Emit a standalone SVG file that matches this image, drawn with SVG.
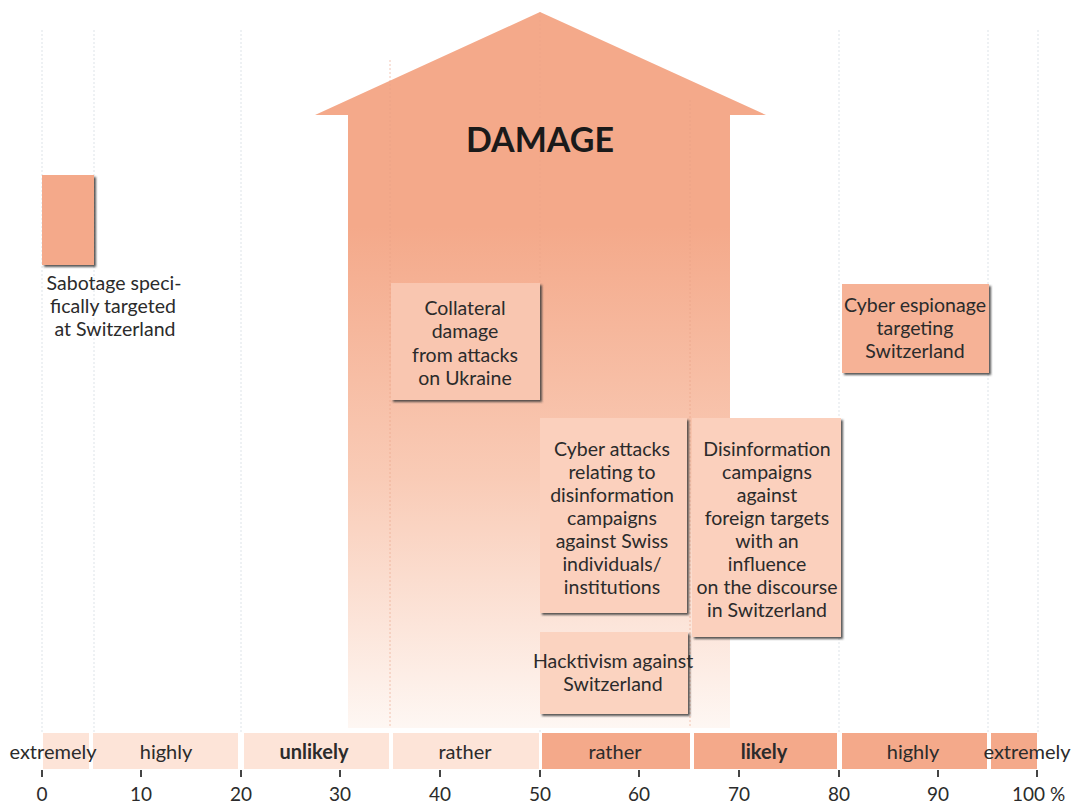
<svg xmlns="http://www.w3.org/2000/svg" width="1082" height="803" viewBox="0 0 1082 803">
<style>
text{font-family:Lato,"Noto Sans","Liberation Sans",sans-serif;fill:#2b2b2b;}
.lbl{font-size:19.5px;text-anchor:middle;}
.band{font-size:20px;text-anchor:middle;}
.num{font-size:19px;text-anchor:middle;}
.grid{stroke:#dde3e8;stroke-width:1;stroke-dasharray:2 2;}
.tick{stroke:#444;stroke-width:2;}
.lt{fill:#fde4d8;}
.dk{fill:#f4a98a;}
.box{filter:url(#sh);}
</style>
<defs>
<linearGradient id="ag" x1="0" y1="0" x2="0" y2="1" gradientUnits="objectBoundingBox">
<stop offset="0" stop-color="#f4a98a"/>
<stop offset="0.3" stop-color="#f4a98a"/>
<stop offset="0.65" stop-color="#f9cbb6"/>
<stop offset="1" stop-color="#fef7f3"/>
</linearGradient>
<filter id="sh" x="-10%" y="-10%" width="125%" height="125%">
<feDropShadow dx="2" dy="2" stdDeviation="0.8" flood-color="#3a3a3a" flood-opacity="0.85"/>
</filter>
</defs>
<rect width="1082" height="803" fill="#ffffff"/>
<g id="grid">
<line class="grid" x1="42" y1="30" x2="42" y2="732"/>
<line class="grid" x1="94" y1="30" x2="94" y2="732"/>
<line class="grid" x1="241" y1="30" x2="241" y2="732"/>
<line class="grid" x1="540" y1="30" x2="540" y2="732"/>
<line class="grid" x1="839" y1="30" x2="839" y2="732"/>
<line class="grid" x1="988" y1="30" x2="988" y2="732"/>
<line class="grid" x1="1038" y1="30" x2="1038" y2="732"/>
</g>
<g id="arrow">
<path d="M540 12 L766 115 L730 115 L730 728 L348 728 L348 115 L315 115 Z" fill="url(#ag)"/>
<line x1="390" y1="60" x2="390" y2="728" stroke="#e8a084" stroke-width="1" stroke-dasharray="2 2" opacity="0.6"/>
<line x1="690" y1="100" x2="690" y2="728" stroke="#e8a084" stroke-width="1" stroke-dasharray="2 2" opacity="0.6"/>
<line x1="540" y1="12" x2="540" y2="400" stroke="#e8a084" stroke-width="1" stroke-dasharray="2 2" opacity="0.4"/>
<text x="540" y="152" style="font-size:34px;font-weight:bold;text-anchor:middle;fill:#1a1a1a">DAMAGE</text>
</g>
<g id="sabotage">
<rect class="box" x="42" y="175" width="52" height="90" fill="#f4a98a"/>
<text class="lbl" x="114" y="290">Sabotage speci-</text>
<text class="lbl" x="113" y="313">fically targeted</text>
<text class="lbl" x="115" y="336">at Switzerland</text>
</g>
<g id="collateral">
<rect class="box" x="391" y="283" width="149" height="117" fill="#f9c6b0"/>
<text class="lbl" x="465" y="315">Collateral</text>
<text class="lbl" x="465" y="338">damage</text>
<text class="lbl" x="465" y="362">from attacks</text>
<text class="lbl" x="465" y="385">on Ukraine</text>
</g>
<g id="espionage">
<rect class="box" x="842" y="284" width="147" height="89" fill="#f6b296"/>
<text class="lbl" x="915" y="312">Cyber espionage</text>
<text class="lbl" x="915" y="335">targeting</text>
<text class="lbl" x="915" y="358">Switzerland</text>
</g>
<g id="cyberattacks">
<rect class="box" x="540" y="418" width="147" height="195" fill="#fbd0bd"/>
<text class="lbl" x="612" y="456">Cyber attacks</text>
<text class="lbl" x="612" y="479">relating to</text>
<text class="lbl" x="612" y="502">disinformation</text>
<text class="lbl" x="612" y="525">campaigns</text>
<text class="lbl" x="612" y="548">against Swiss</text>
<text class="lbl" x="612" y="571">individuals/</text>
<text class="lbl" x="612" y="594">institutions</text>
</g>
<g id="disinformation">
<rect class="box" x="692" y="418" width="149" height="219" fill="#fbd0bd"/>
<text class="lbl" x="767" y="456">Disinformation</text>
<text class="lbl" x="767" y="479">campaigns</text>
<text class="lbl" x="767" y="502">against</text>
<text class="lbl" x="767" y="525">foreign targets</text>
<text class="lbl" x="767" y="548">with an</text>
<text class="lbl" x="767" y="571">influence</text>
<text class="lbl" x="767" y="594">on the discourse</text>
<text class="lbl" x="767" y="617">in Switzerland</text>
</g>
<g id="hacktivism">
<rect class="box" x="540" y="632" width="148" height="82" fill="#fbd3c0"/>
<text class="lbl" x="613" y="668">Hacktivism against</text>
<text class="lbl" x="613" y="691">Switzerland</text>
</g>
<g id="scale">
<rect class="lt" x="43" y="733" width="46" height="36"/>
<rect class="lt" x="93" y="733" width="145" height="36"/>
<rect class="lt" x="244" y="733" width="145" height="36"/>
<rect class="lt" x="393" y="733" width="146" height="36"/>
<rect class="dk" x="542" y="733" width="148" height="36"/>
<rect class="dk" x="694" y="733" width="143" height="36"/>
<rect class="dk" x="842" y="733" width="145" height="36"/>
<rect class="dk" x="991" y="733" width="46" height="36"/>
<text class="band" x="53" y="759">extremely</text>
<text class="band" x="166" y="759">highly</text>
<text class="band" x="314" y="759" style="font-weight:bold">unlikely</text>
<text class="band" x="465" y="759">rather</text>
<text class="band" x="615" y="759">rather</text>
<text class="band" x="764" y="759" style="font-weight:bold">likely</text>
<text class="band" x="913" y="759">highly</text>
<text class="band" x="1027" y="759">extremely</text>
<g>
<line class="tick" x1="42" y1="770" x2="42" y2="777"/>
<line class="tick" x1="141" y1="770" x2="141" y2="777"/>
<line class="tick" x1="241" y1="770" x2="241" y2="777"/>
<line class="tick" x1="340" y1="770" x2="340" y2="777"/>
<line class="tick" x1="440" y1="770" x2="440" y2="777"/>
<line class="tick" x1="540" y1="770" x2="540" y2="777"/>
<line class="tick" x1="639" y1="770" x2="639" y2="777"/>
<line class="tick" x1="739" y1="770" x2="739" y2="777"/>
<line class="tick" x1="839" y1="770" x2="839" y2="777"/>
<line class="tick" x1="938" y1="770" x2="938" y2="777"/>
<line class="tick" x1="1037" y1="770" x2="1037" y2="777"/>
</g>
<text class="num" x="42" y="801">0</text>
<text class="num" x="141" y="801">10</text>
<text class="num" x="241" y="801">20</text>
<text class="num" x="340" y="801">30</text>
<text class="num" x="440" y="801">40</text>
<text class="num" x="540" y="801">50</text>
<text class="num" x="639" y="801">60</text>
<text class="num" x="739" y="801">70</text>
<text class="num" x="839" y="801">80</text>
<text class="num" x="938" y="801">90</text>
<text x="1012" y="801" style="font-size:19px">100 %</text>
</g>
</svg>
